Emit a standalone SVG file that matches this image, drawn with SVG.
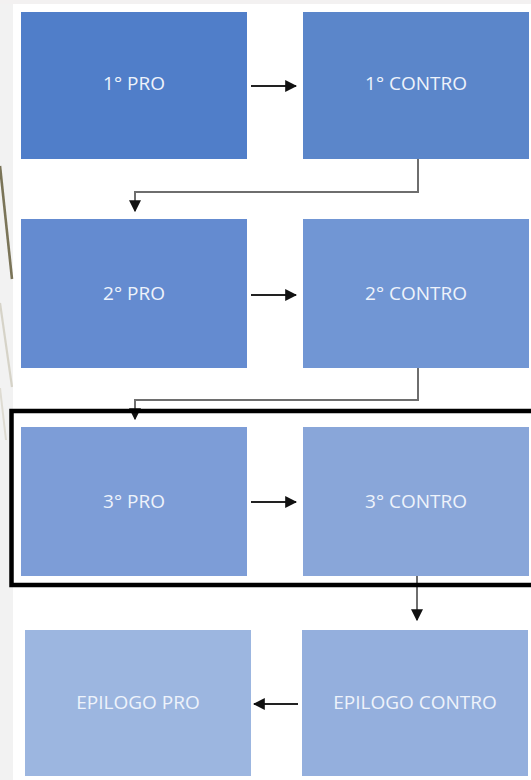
<svg xmlns="http://www.w3.org/2000/svg" width="531" height="780" viewBox="0 0 531 780">
<defs>
<style>
.lbl{font-family:"Open Sans","Noto Sans","Liberation Sans",sans-serif;font-size:19px;fill:#eef3fb;text-anchor:middle;dominant-baseline:central}
.wire{fill:none;stroke:#6e6e6e;stroke-width:2}
.harr{fill:none;stroke:#222;stroke-width:2}
</style>
<marker id="ah" viewBox="0 0 10 10" refX="9" refY="5" markerWidth="12" markerHeight="12" markerUnits="userSpaceOnUse" orient="auto">
<path d="M0,0 L10,5 L0,10 Z" fill="#111"/>
</marker>
</defs>
<rect x="0" y="0" width="531" height="780" fill="#ffffff"/>
<rect x="0" y="0" width="13" height="780" fill="#f2f2f2"/>
<rect x="0" y="0" width="531" height="4" fill="#f3f1f1"/>
<g id="decor">
<line x1="0" y1="166" x2="12" y2="279" stroke="#7a7458" stroke-width="2.6"/>
<line x1="0" y1="303" x2="12" y2="387" stroke="#d6d3c8" stroke-width="2.2"/>
<line x1="0" y1="388" x2="6" y2="440" stroke="#dedbd2" stroke-width="2"/>
</g>
<g id="connectors">
<line class="harr" x1="251" y1="86" x2="296" y2="86" marker-end="url(#ah)"/>
<polyline class="wire" points="418,159 418,192 135,192 135,211" marker-end="url(#ah)"/>
<line class="harr" x1="251" y1="295" x2="296" y2="295" marker-end="url(#ah)"/>
<polyline class="wire" points="418,368 418,400 135,400 135,419" marker-end="url(#ah)"/>
<line class="harr" x1="251" y1="502" x2="296" y2="502" marker-end="url(#ah)"/>
<line class="wire" x1="417" y1="576" x2="417" y2="620" marker-end="url(#ah)"/>
<line class="harr" x1="298" y1="704" x2="254" y2="704" marker-end="url(#ah)"/>
</g>
<g id="pro1"><rect x="21" y="12" width="226" height="147" fill="#507ec9"/><text class="lbl" x="134" y="83">1° PRO</text></g>
<g id="contro1"><rect x="303" y="12" width="226" height="147" fill="#5b86ca"/><text class="lbl" x="416" y="83">1° CONTRO</text></g>
<g id="pro2"><rect x="21" y="219" width="226" height="149" fill="#648bd0"/><text class="lbl" x="134" y="293">2° PRO</text></g>
<g id="contro2"><rect x="303" y="219" width="226" height="149" fill="#7196d4"/><text class="lbl" x="416" y="293">2° CONTRO</text></g>
<g id="pro3"><rect x="21" y="427" width="226" height="149" fill="#7d9dd7"/><text class="lbl" x="134" y="501">3° PRO</text></g>
<g id="contro3"><rect x="303" y="427" width="226" height="149" fill="#89a6d9"/><text class="lbl" x="416" y="501">3° CONTRO</text></g>
<g id="highlight"><rect x="11.5" y="411" width="524" height="174" fill="none" stroke="#000" stroke-width="4.5"/></g>
<g id="epilogo-pro"><rect x="25" y="630" width="226" height="146" fill="#9cb6e0"/><text class="lbl" x="138" y="702">EPILOGO PRO</text></g>
<g id="epilogo-contro"><rect x="302" y="630" width="226" height="146" fill="#94afdd"/><text class="lbl" x="415" y="702">EPILOGO CONTRO</text></g>
</svg>
